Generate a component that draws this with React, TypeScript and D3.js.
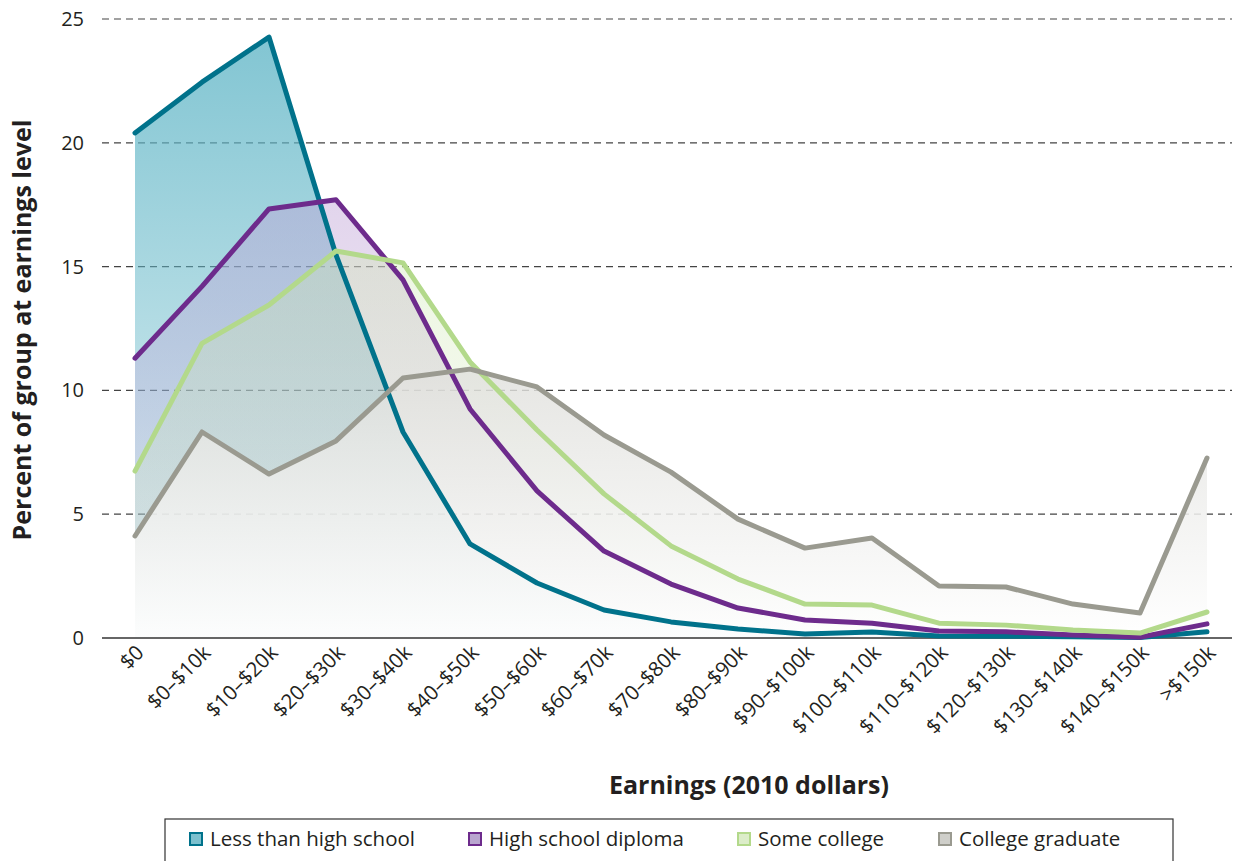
import React from "react";
import * as d3 from "d3";

const categories = ["$0", "$0–$10k", "$10–$20k", "$20–$30k", "$30–$40k", "$40–$50k", "$50–$60k", "$60–$70k", "$70–$80k", "$80–$90k", "$90–$100k", "$100–$110k", "$110–$120k", "$120–$130k", "$130–$140k", "$140–$150k", ">$150k"];
const lessThanHS = [20.4, 22.45, 24.27, 15.47, 8.32, 3.8, 2.22, 1.13, 0.65, 0.36, 0.16, 0.24, 0.08, 0.07, 0.05, 0.02, 0.25];
const hsDiploma = [11.3, 14.2, 17.33, 17.7, 14.46, 9.25, 5.94, 3.51, 2.18, 1.21, 0.73, 0.6, 0.28, 0.25, 0.12, 0.03, 0.57];
const someCollege = [6.74, 11.9, 13.45, 15.63, 15.15, 11.15, 8.4, 5.82, 3.72, 2.38, 1.37, 1.33, 0.6, 0.52, 0.32, 0.2, 1.05];
const collegeGrad = [4.12, 8.32, 6.62, 7.96, 10.5, 10.86, 10.14, 8.2, 6.7, 4.8, 3.63, 4.04, 2.1, 2.06, 1.37, 1.01, 7.27];
const yTicks = [0, 5, 10, 15, 20, 25];
const seriesNames = ["Less than high school", "High school diploma", "Some college", "College graduate"];

const FONT = "'Open Sans', 'Noto Sans', sans-serif";

export default function App() {
  const W = 1238, H = 861;
  const x = d3.scalePoint<string>().domain(categories).range([135, 1207]);
  const y = d3.scaleLinear().domain([0, 25]).range([638, 19]);

  const series = [
    { name: seriesNames[0], values: lessThanHS, stroke: "#00728b", fillTop: "#5fb5c6", topOp: 0.8, botOp: 0.15, id: "g0" },
    { name: seriesNames[1], values: hsDiploma, stroke: "#6d2b8c", fillTop: "#bfa2d6", topOp: 0.6, botOp: 0.1, id: "g1" },
    { name: seriesNames[2], values: someCollege, stroke: "#b3d98b", fillTop: "#cfe7b4", topOp: 0.55, botOp: 0.1, id: "g2" },
    { name: seriesNames[3], values: collegeGrad, stroke: "#9a9a90", fillTop: "#b8b8b0", topOp: 0.7, botOp: 0.9, id: "g3" },
  ];

  const line = d3.line<number>().x((_, i) => x(categories[i])!).y((d) => y(d));
  const area = d3.area<number>().x((_, i) => x(categories[i])!).y0(y(0)).y1((d) => y(d));

  const legendSwatch = [
    { stroke: "#00728b", fill: "#7cc0ce" },
    { stroke: "#6d2b8c", fill: "#b9a6cf" },
    { stroke: "#b3d98b", fill: "#dcedc9" },
    { stroke: "#9a9a90", fill: "#cfcfca" },
  ];
  const legendX = [190, 469, 738, 939];

  return (
    <svg width={W} height={H} style={{ position: "absolute", left: 0, top: 0, background: "#fff" }} fontFamily={FONT}>
      <defs>
        {series.map((s) => (
          <linearGradient key={s.id} id={s.id} gradientUnits="userSpaceOnUse" x1="0" y1={y(25)} x2="0" y2={y(0)}>
            <stop offset="0%" stopColor={s.fillTop} stopOpacity={s.topOp} />
            <stop offset="100%" stopColor={s.id === "g3" ? "#ffffff" : s.fillTop} stopOpacity={s.botOp} />
          </linearGradient>
        ))}
      </defs>
      {yTicks.filter((t) => t > 0).map((t) => (
        <line key={t} x1={102} x2={1232} y1={y(t)} y2={y(t)} stroke="#444" strokeWidth={1.2} strokeDasharray="7 5" />
      ))}
      {series.map((s) => (
        <path key={s.id + "a"} d={area(s.values)!} fill={`url(#${s.id})`} />
      ))}
      <line x1={102} x2={1232} y1={y(0)} y2={y(0)} stroke="#333" strokeWidth={1.5} />
      {series.map((s) => (
        <path key={s.id + "l"} d={line(s.values)!} fill="none" stroke={s.stroke} strokeWidth={5} strokeLinejoin="round" strokeLinecap="round" />
      ))}
      {yTicks.map((t) => (
        <text key={t} x={84} y={y(t)} dy="0.35em" textAnchor="end" fontSize={20} fill="#231f20">{t}</text>
      ))}
      {categories.map((c) => (
        <text key={c} transform={`translate(${x(c)! + 10},${654}) rotate(-45)`} textAnchor="end" fontSize={20.5} fill="#231f20">{c}</text>
      ))}
      <text transform={`translate(31,${330}) rotate(-90)`} textAnchor="middle" fontSize={25} fontWeight="bold" fill="#231f20">Percent of group at earnings level</text>
      <text x={749} y={794} textAnchor="middle" fontSize={25} fontWeight="bold" fill="#231f20">Earnings (2010 dollars)</text>
      <rect x={165} y={819} width={1008} height={60} fill="#fff" stroke="#333" strokeWidth={1.2} />
      {seriesNames.map((n, i) => (
        <g key={n}>
          <rect x={legendX[i]} y={833} width={12} height={12} fill={legendSwatch[i].fill} stroke={legendSwatch[i].stroke} strokeWidth={2} />
          <text x={legendX[i] + 20} y={839} dy="0.35em" fontSize={20.5} fill="#231f20">{n}</text>
        </g>
      ))}
    </svg>
  );
}
